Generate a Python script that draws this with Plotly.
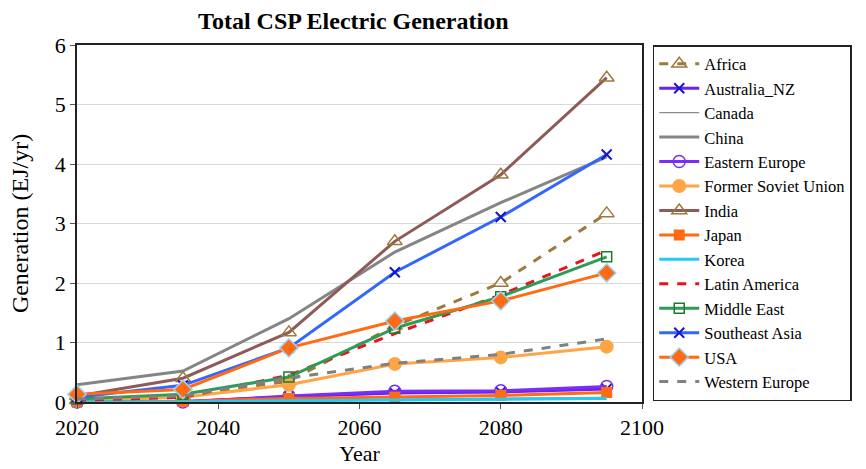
import plotly.graph_objects as go

years = [2020, 2035, 2050, 2065, 2080, 2095]

africa = [0.03, 0.10, 0.35, 1.28, 2.00, 3.17]
australia_nz = [0.00, 0.01, 0.09, 0.15, 0.17, 0.22]
canada = [0.00, 0.00, 0.03, 0.05, 0.06, 0.08]
china = [0.29, 0.52, 1.40, 2.52, 3.35, 4.12]
eastern_europe = [0.00, 0.00, 0.10, 0.18, 0.19, 0.26]
former_soviet_union = [0.02, 0.08, 0.29, 0.64, 0.75, 0.93]
india = [0.10, 0.40, 1.17, 2.70, 3.82, 5.45]
japan = [0.01, 0.01, 0.06, 0.08, 0.11, 0.16]
korea = [0.00, 0.00, 0.02, 0.03, 0.04, 0.06]
latin_america = [0.03, 0.08, 0.45, 1.15, 1.80, 2.55]
middle_east = [0.05, 0.13, 0.42, 1.24, 1.77, 2.44]
southeast_asia = [0.08, 0.28, 0.91, 2.18, 3.11, 4.16]
usa = [0.13, 0.21, 0.91, 1.36, 1.70, 2.17]
western_europe = [0.05, 0.10, 0.40, 0.65, 0.80, 1.06]

series = [
    ("Africa", africa, dict(color="#9C7A3C", width=3, dash="dash"),
     dict(symbol="triangle-up-open", size=13, color="#9C7A3C", line=dict(width=1.5, color="#9C7A3C"))),
    ("Australia_NZ", australia_nz, dict(color="#6A22F0", width=3),
     dict(symbol="x-thin-open", size=10, color="#1515CC", line=dict(width=2, color="#1515CC"))),
    ("Canada", canada, dict(color="#8C8C8C", width=1.2), None),
    ("China", china, dict(color="#858585", width=3), None),
    ("Eastern Europe", eastern_europe, dict(color="#7A2EF5", width=3),
     dict(symbol="circle-open", size=12, color="#7A2EF5", line=dict(width=1.5, color="#7A2EF5"))),
    ("Former Soviet Union", former_soviet_union, dict(color="#FFA545", width=3),
     dict(symbol="circle", size=14, color="#FFA545")),
    ("India", india, dict(color="#8E5A5A", width=3),
     dict(symbol="triangle-up-open", size=13, color="#9C7A3C", line=dict(width=1.5, color="#9C7A3C"))),
    ("Japan", japan, dict(color="#FF6A13", width=3),
     dict(symbol="square", size=11, color="#FF6A13")),
    ("Korea", korea, dict(color="#22CCF5", width=3), None),
    ("Latin America", latin_america, dict(color="#E8141C", width=3, dash="dash"), None),
    ("Middle East", middle_east, dict(color="#2E9B57", width=3),
     dict(symbol="square-open", size=10, color="#1E7B2E", line=dict(width=1.5, color="#1E7B2E"))),
    ("Southeast Asia", southeast_asia, dict(color="#3366FF", width=3),
     dict(symbol="x-thin-open", size=10, color="#1515CC", line=dict(width=2, color="#1515CC"))),
    ("USA", usa, dict(color="#FF6A13", width=3),
     dict(symbol="diamond", size=14, color="#FF6A13", line=dict(width=1.5, color="#9BD3F5"))),
    ("Western Europe", western_europe, dict(color="#808080", width=3, dash="dash"), None),
]

fig = go.Figure()
for name, vals, line, marker in series:
    fig.add_trace(go.Scatter(
        x=years, y=vals, name=name,
        mode="lines+markers" if marker else "lines",
        line=line, marker=marker, cliponaxis=False,
    ))

serif = "Liberation Serif, Times New Roman, serif"
fig.update_layout(
    width=866, height=469,
    margin=dict(l=77, r=224, t=45, b=67, autoexpand=False),
    paper_bgcolor="white", plot_bgcolor="white",
    font=dict(family=serif, color="black"),
    title=dict(text="<b>Total CSP Electric Generation</b>", x=0.408, xanchor="center",
               xref="container",
               y=0.957, yanchor="middle", font=dict(size=24, family=serif)),
    xaxis=dict(range=[2020, 2100], tickvals=[2020, 2040, 2060, 2080, 2100],
               showgrid=False, showline=True, linecolor="#222", linewidth=1.5, mirror=True,
               ticks="outside", ticklen=5, tickcolor="#555", automargin=False,
               tickfont=dict(size=22), title=dict(text="Year", font=dict(size=22), standoff=6),
               zeroline=False),
    yaxis=dict(range=[0, 6], dtick=1, showgrid=True, gridcolor="#D9D9D9", gridwidth=1,
               showline=True, linecolor="#222", linewidth=1.5, mirror=True,
               ticks="outside", ticklen=5, tickcolor="#555", automargin=False,
               tickfont=dict(size=22), title=dict(text="Generation (EJ/yr)", font=dict(size=24), standoff=19),
               zeroline=False),
    legend=dict(x=1.019, xanchor="left", y=1.0, yanchor="top",
                bordercolor="#222", borderwidth=1.5, bgcolor="white",
                font=dict(size=16.5, family=serif), tracegroupgap=0,
                itemwidth=40, entrywidth=162, entrywidthmode="pixels"),
)

fig.write_html("out.html", config={"displayModeBar": False},
               post_script="document.body.style.margin='0';")
